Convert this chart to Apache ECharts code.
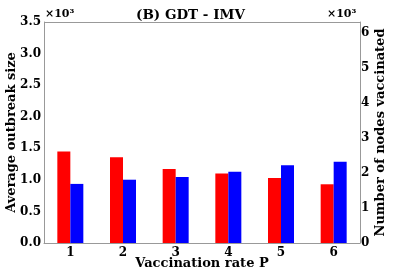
<!DOCTYPE html>
<html><head><meta charset="utf-8">
<script src="https://cdn.jsdelivr.net/npm/echarts@6/dist/echarts.min.js"></script>
<style>html,body{margin:0;padding:0;background:#fff}#c{width:399px;height:273px}</style>
</head><body><div id="c"></div>
<script>
const categories = ['1','2','3','4','5','6'];
const outbreakSize = [1.45, 1.36, 1.17, 1.10, 1.03, 0.93];   // ×10^3, left axis
const nodesVaccinated = [1.69, 1.81, 1.89, 2.04, 2.22, 2.32]; // ×10^3, right axis
const leftTicks = ['0.0','0.5','1.0','1.5','2.0','2.5','3.0','3.5'];
const rightTicks = ['0','1','2','3','4','5','6'];

const F = 'DejaVu Serif';
const chart = echarts.init(document.getElementById('c'), null, {renderer:'canvas'});
const lab = {fontFamily:F, fontWeight:'bold', fontSize:13, color:'#000'};
const tick = {fontFamily:F, fontWeight:'bold', fontSize:12, color:'#000'};
const sup = {fontFamily:F, fontWeight:'bold', fontSize:11, fill:'#000'};
const ttl = {fontFamily:F, fontWeight:'bold', fontSize:13, fill:'#000', align:'center', verticalAlign:'middle'};
chart.setOption({
  animation:false,
  grid:{left:44, right:39, top:22, bottom:30, containLabel:false, outerBoundsMode:'none'},
  title:{text:'(B) GDT - IMV', left:136, top:8, padding:0, textStyle:{fontFamily:F, fontWeight:'bold', fontSize:13.5, color:'#000'}},
  graphic:[
    {type:'text', left:45, top:9, style:Object.assign({text:'×10³'}, sup)},
    {type:'text', left:327, top:9, style:Object.assign({text:'×10³'}, sup)},
    {type:'line', shape:{x1:44,y1:22.5,x2:360,y2:22.5}, style:{stroke:'#999', lineWidth:1}},
    {type:'text', x:11.5, y:132.5, rotation:Math.PI/2, style:Object.assign({text:'Average outbreak size'}, ttl)},
    {type:'text', x:380.5, y:132.5, rotation:Math.PI/2, style:Object.assign({text:'Number of nodes vaccinated'}, ttl)}
  ],
  xAxis:{type:'category', data:categories,
    axisLine:{lineStyle:{color:'#999', width:1}}, axisTick:{show:false},
    axisLabel:Object.assign({margin:4}, tick),
    name:'Vaccination rate P', nameLocation:'middle', nameGap:14, nameMoveOverlap:false,
    nameTextStyle:Object.assign({verticalAlign:'top'}, lab)},
  yAxis:[
    {type:'value', min:0, max:3.5, interval:0.5, position:'left',
     axisLine:{show:true, lineStyle:{color:'#999'}}, axisTick:{show:false}, splitLine:{show:false},
     axisLabel:Object.assign({margin:3, formatter:(v)=>{const i=Math.round(v/0.5); return Math.abs(v-i*0.5)<1e-6?leftTicks[i]:'';}}, tick)},
    {type:'value', min:0, max:6.32, interval:1, position:'right',
     axisLine:{show:true, lineStyle:{color:'#999'}}, axisTick:{show:false}, splitLine:{show:false},
     axisLabel:Object.assign({margin:1, formatter:(v)=>{const i=Math.round(v); return Math.abs(v-i)<1e-6&&i<rightTicks.length?rightTicks[i]:'';}}, tick)}
  ],
  series:[
    {type:'bar', data:outbreakSize, yAxisIndex:0, barWidth:13, barGap:'0%', itemStyle:{color:'#ff0000'}},
    {type:'bar', data:nodesVaccinated, yAxisIndex:1, barWidth:13, barGap:'0%', itemStyle:{color:'#0000ff'}}
  ]
});
</script></body></html>
